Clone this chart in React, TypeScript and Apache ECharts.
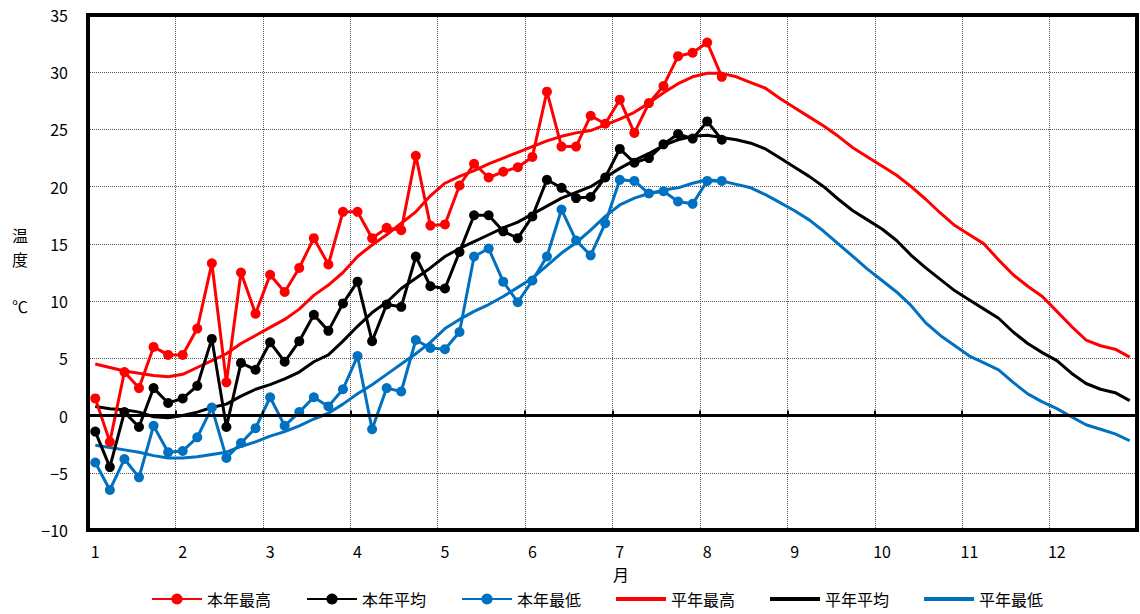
import React, { useEffect, useRef } from 'react';
import * as echarts from 'echarts';

// Months and half-month (半旬, 5-day) periods
const MONTHS = ['1', '2', '3', '4', '5', '6', '7', '8', '9', '10', '11', '12'];
const PERIODS = ['1', '2', '3', '4', '5', '6'];
const CATEGORIES = MONTHS.flatMap((m) => PERIODS.map((p) => `${m}-${p}`));

const SERIES_NAMES = ['本年最高', '本年平均', '本年最低', '平年最高', '平年平均', '平年最低'];

// This year (本年) – 44 half-month periods, Jan 1 – Aug 2
const thisYearMax = [
  1.5, -2.3, 3.8, 2.4, 6.0, 5.3, 5.3, 7.6, 13.3, 2.9, 12.5, 8.9,
  12.3, 10.8, 12.9, 15.5, 13.2, 17.8, 17.8, 15.5, 16.4, 16.2, 22.7, 16.6,
  16.7, 20.1, 22.0, 20.8, 21.3, 21.7, 22.6, 28.3, 23.5, 23.5, 26.2, 25.5,
  27.6, 24.7, 27.3, 28.8, 31.4, 31.7, 32.6, 29.6,
];
const thisYearAvg = [
  -1.4, -4.5, 0.3, -1.0, 2.4, 1.1, 1.5, 2.6, 6.7, -1.0, 4.6, 4.0,
  6.4, 4.7, 6.5, 8.8, 7.4, 9.8, 11.7, 6.5, 9.7, 9.5, 13.9, 11.3,
  11.1, 14.3, 17.5, 17.5, 16.1, 15.5, 17.4, 20.6, 19.9, 19.0, 19.1, 20.8,
  23.3, 22.1, 22.5, 23.7, 24.6, 24.2, 25.7, 24.1,
];
const thisYearMin = [
  -4.1, -6.5, -3.8, -5.4, -0.9, -3.2, -3.1, -1.9, 0.7, -3.7, -2.4, -1.1,
  1.6, -0.9, 0.3, 1.6, 0.8, 2.3, 5.2, -1.2, 2.4, 2.1, 6.6, 5.9,
  5.8, 7.3, 13.9, 14.6, 11.7, 9.9, 11.8, 13.9, 18.0, 15.3, 14.0, 16.8,
  20.6, 20.5, 19.4, 19.6, 18.7, 18.5, 20.5, 20.5,
];

// Normal (平年) – 72 half-month periods
const normalMax = [
  4.5, 4.2, 3.9, 3.7, 3.5, 3.4, 3.6, 4.2, 4.8, 5.4, 6.3, 7.0,
  7.7, 8.4, 9.3, 10.5, 11.4, 12.5, 13.9, 14.9, 15.8, 16.8, 17.8, 19.2,
  20.3, 20.9, 21.4, 22.0, 22.5, 23.0, 23.5, 24.0, 24.4, 24.7, 24.9, 25.4,
  25.9, 26.5, 27.3, 28.2, 29.0, 29.6, 29.9, 29.9, 29.6, 29.1, 28.6, 27.7,
  26.9, 26.1, 25.3, 24.4, 23.4, 22.6, 21.8, 21.0, 20.0, 18.9, 17.7, 16.6,
  15.8, 15.0, 13.6, 12.3, 11.3, 10.4, 9.1, 7.8, 6.6, 6.1, 5.8, 5.1,
];
const normalAvg = [
  0.8, 0.6, 0.5, 0.3, -0.1, -0.2, 0.0, 0.3, 0.7, 1.0, 1.7, 2.3,
  2.7, 3.2, 3.8, 4.7, 5.3, 6.5, 7.8, 9.0, 9.9, 11.1, 12.0, 12.9,
  13.9, 14.6, 15.2, 15.8, 16.4, 16.9, 17.6, 18.3, 19.0, 19.5, 20.0, 20.8,
  21.6, 22.3, 22.9, 23.6, 24.1, 24.4, 24.5, 24.3, 24.1, 23.8, 23.3, 22.5,
  21.7, 20.9, 20.0, 18.9, 17.9, 17.1, 16.3, 15.3, 14.0, 12.9, 11.9, 10.9,
  10.1, 9.3, 8.5, 7.3, 6.3, 5.5, 4.8, 3.7, 2.8, 2.3, 2.0, 1.3,
];
const normalMin = [
  -2.6, -2.8, -3.0, -3.2, -3.5, -3.7, -3.7, -3.6, -3.4, -3.2, -2.7, -2.3,
  -1.8, -1.4, -0.9, -0.3, 0.2, 1.0, 1.9, 2.7, 3.6, 4.5, 5.4, 6.4,
  7.6, 8.4, 9.1, 9.7, 10.4, 11.2, 12.0, 13.1, 14.2, 15.1, 16.2, 17.4,
  18.4, 19.0, 19.4, 19.7, 19.9, 20.3, 20.6, 20.5, 20.2, 19.9, 19.3, 18.6,
  17.9, 17.1, 16.1, 15.0, 13.9, 12.8, 11.8, 10.8, 9.6, 8.1, 7.0, 6.1,
  5.2, 4.6, 4.0, 2.9, 1.9, 1.2, 0.6, -0.1, -0.8, -1.2, -1.6, -2.2,
];

const RED = '#FF0000';
const BLACK = '#000000';
const BLUE = '#0070C0';
const FONT = '"Noto Sans CJK JP", "Noto Sans", sans-serif';
const LINE_ICON = 'path://M0,0L50,0L50,4L0,4Z';

export default function App() {
  const ref = useRef<HTMLDivElement>(null);

  useEffect(() => {
    document.body.style.margin = '0';
    if (!ref.current) return;
    const chart = echarts.init(ref.current, undefined, { renderer: 'svg' });

    const monthTick = (i: number) => i % 6 === 0;
    const gridLine = { color: '#555', type: [1, 1] as number[], width: 1 };

    const thisSeries = (name: string, data: number[], color: string) => ({
      name,
      type: 'line',
      data,
      color,
      symbol: 'circle',
      symbolSize: 10,
      showSymbol: true,
      showAllSymbol: true,
      lineStyle: { color, width: 3 },
      itemStyle: { color },
      z: 4,
    });
    const normalSeries = (name: string, data: number[], color: string) => ({
      name,
      type: 'line',
      data,
      color,
      symbol: 'none',
      showSymbol: false,
      lineStyle: { color, width: 3 },
      itemStyle: { color },
      z: 3,
    });

    const sideText = (text: string, y: number) => ({
      type: 'text',
      x: 20,
      y,
      style: {
        text,
        fontSize: 16,
        fontFamily: FONT,
        fill: '#000',
        textAlign: 'center',
        textVerticalAlign: 'middle',
      },
    });

    chart.setOption({
      animation: false,
      textStyle: { fontFamily: FONT },
      grid: {
        left: 88,
        top: 15,
        right: 3,
        bottom: 84,
        show: true,
        borderColor: '#000',
        borderWidth: 4,
        backgroundColor: 'transparent',
        z: 10,
      },
      xAxis: [
        {
          type: 'category',
          data: CATEGORIES,
          boundaryGap: true,
          axisLine: { show: false, onZero: false },
          axisTick: { show: false },
          axisLabel: {
            interval: (i: number) => monthTick(i),
            formatter: (v: string) => v.split('-')[0],
            color: '#000',
            fontSize: 16,
            fontFamily: FONT,
            margin: 13,
          },
          splitLine: {
            show: true,
            interval: (i: number) => monthTick(i),
            lineStyle: gridLine,
          },
        },
        {
          type: 'category',
          data: CATEGORIES,
          position: 'bottom',
          boundaryGap: true,
          axisLine: { show: true, onZero: true, lineStyle: { color: '#000', width: 3 } },
          axisTick: {
            show: true,
            inside: true,
            length: 5,
            interval: (i: number) => monthTick(i),
            lineStyle: { color: '#000', width: 2 },
          },
          axisLabel: { show: false },
          splitLine: { show: false },
          z: 5,
        },
      ],
      yAxis: {
        type: 'value',
        min: -10,
        max: 35,
        interval: 5,
        axisLine: { show: false },
        axisTick: { show: false },
        axisLabel: {
          color: '#000',
          fontSize: 16,
          fontFamily: FONT,
          margin: 20,
          formatter: (v: number) => String(v).replace('-', '−'),
        },
        splitLine: { show: true, lineStyle: gridLine },
      },
      legend: {
        data: [
          { name: SERIES_NAMES[0] },
          { name: SERIES_NAMES[1] },
          { name: SERIES_NAMES[2] },
          { name: SERIES_NAMES[3], icon: LINE_ICON },
          { name: SERIES_NAMES[4], icon: LINE_ICON },
          { name: SERIES_NAMES[5], icon: LINE_ICON },
        ],
        left: 146,
        top: 586,
        itemWidth: 50,
        itemHeight: 14,
        itemGap: 35,
        symbolKeepAspect: true,
        textStyle: { color: '#000', fontSize: 16, fontFamily: FONT },
      },
      graphic: [
        sideText('温', 235),
        sideText('度', 259),
        sideText('℃', 306),
        { type: 'text', x: 621, y: 574, style: { text: '月', fontSize: 16, fontFamily: FONT, fill: '#000', textAlign: 'center', textVerticalAlign: 'middle' } },
      ],
      series: [
        thisSeries(SERIES_NAMES[0], thisYearMax, RED),
        thisSeries(SERIES_NAMES[1], thisYearAvg, BLACK),
        thisSeries(SERIES_NAMES[2], thisYearMin, BLUE),
        normalSeries(SERIES_NAMES[3], normalMax, RED),
        normalSeries(SERIES_NAMES[4], normalAvg, BLACK),
        normalSeries(SERIES_NAMES[5], normalMin, BLUE),
      ],
    });

    return () => chart.dispose();
  }, []);

  return <div ref={ref} style={{ width: 1140, height: 614, position: 'absolute', left: 0, top: 0 }} />;
}
